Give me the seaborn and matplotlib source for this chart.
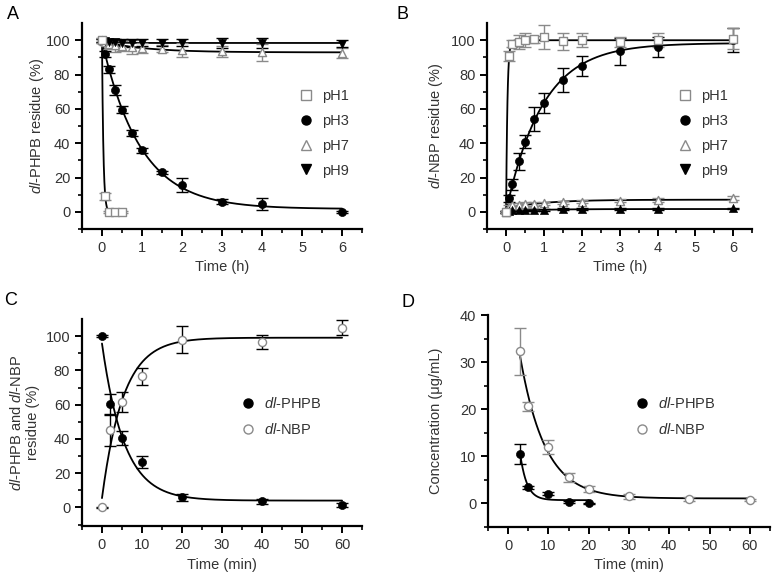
import numpy as np
import matplotlib
matplotlib.use("Agg")
import matplotlib.pyplot as plt
import seaborn as sns
from matplotlib.lines import Line2D

sns.set_style("ticks")
plt.rcParams["font.family"] = ["Liberation Sans", "DejaVu Sans"]
plt.rcParams["mathtext.fontset"] = "custom"
plt.rcParams["mathtext.rm"] = "Liberation Sans"
plt.rcParams["mathtext.it"] = "Liberation Sans:italic"

GRAY = "#8a8a8a"
TXT = "#333333"

# ---- data: panel A (dl-PHPB residue, %)
a_t1 = [0, 0.083, 0.167, 0.333, 0.5]
a_ph1 = [100, 9, 0, 0, 0]
a_ph1_err = [1.5, 2, 0.5, 0.5, 0.5]
a_t = [0, 0.083, 0.167, 0.333, 0.5, 0.75, 1, 1.5, 2, 3, 4, 6]
a_ph3 = [100, 92, 83, 71, 59.5, 46, 36, 23, 15.5, 6, 4.5, 0]
a_ph3_err = [1, 1.5, 2, 3, 2, 1.5, 1.5, 1, 4, 1.5, 3.5, 0.5]
a_ph7 = [100, 99, 98, 97, 96.5, 96, 95.5, 95, 94.5, 93.5, 93, 92.5]
a_ph7_err = [1.5, 2, 3, 4, 3, 4, 3, 2, 4, 3, 5, 3]
a_ph9 = [100, 99.5, 99, 99, 98.5, 98.5, 98.5, 98.5, 98.5, 98.5, 98.5, 98]
a_ph9_err = [1, 1.5, 1.5, 2, 2, 2.5, 2, 2, 2, 3, 3, 2]

# ---- panel B (dl-NBP residue, %)
b_t = [0, 0.083, 0.167, 0.333, 0.5, 0.75, 1, 1.5, 2, 3, 4, 6]
b_ph1 = [0, 91, 98, 99, 100, 100.5, 102, 99.5, 100, 99, 100, 101]
b_ph1_err = [0.5, 3, 2, 4, 4, 2, 7, 5, 4, 3, 4, 6]
b_ph3 = [0, 8, 16, 29.5, 41, 54, 63.5, 77, 85, 93.5, 96, 100]
b_ph3_err = [0.5, 2, 3, 5, 4, 7, 6, 7, 6, 8, 6, 7]
b_ph7 = [0, 3, 4, 4, 4.5, 4.5, 5, 5.5, 6, 6.5, 7, 8]
b_ph7_err = [0.5, 1, 1, 1, 1, 1, 1, 1, 1, 1, 1, 1]
b_ph9 = [0, 0.5, 1, 1, 1, 1, 1, 1.5, 1.5, 1.5, 1.5, 2]
b_ph9_err = [0.5, 0.5, 0.5, 0.5, 0.5, 0.5, 0.5, 0.5, 0.5, 0.5, 0.5, 0.5]

# ---- panel C (residue, %, vs min)
c_t = [0, 2, 5, 10, 20, 40, 60]
c_phpb = [100, 60.5, 40.5, 26.5, 6, 3.5, 1.5]
c_phpb_err = [0.5, 6, 4, 3.5, 2, 1.5, 1]
c_nbp = [0, 45, 61.5, 76.5, 98, 96.5, 105]
c_nbp_err = [0.5, 9, 6, 5, 8, 4, 4.5]

# ---- panel D (concentration, ug/mL)
d_t_phpb = [3, 5, 10, 15, 20]
d_phpb = [10.5, 3.4, 2, 0.3, 0]
d_phpb_err = [2.2, 0.3, 0.3, 0.2, 0.1]
d_t_nbp = [3, 5, 10, 15, 20, 30, 45, 60]
d_nbp = [32.3, 20.6, 12, 5.5, 3, 1.5, 0.9, 0.7]
d_nbp_err = [5, 1, 1.5, 1, 0.7, 0.5, 0.5, 0.2]


def exp_fit(x, y):
    # y = a*exp(-k x) + c, grid over k, least squares for a, c
    x = np.asarray(x, float)
    y = np.asarray(y, float)
    best = None
    for k in np.logspace(-3, 2.2, 3000):
        A = np.column_stack([np.exp(-k * x), np.ones_like(x)])
        coef = np.linalg.lstsq(A, y, rcond=None)[0]
        sse = np.sum((A @ coef - y) ** 2)
        if best is None or sse < best[0]:
            best = (sse, k, coef)
    _, k, (a, c) = best
    xs = np.linspace(x.min(), x.max(), 500)
    return xs, a * np.exp(-k * xs) + c


def series(ax, x, y, err, marker, filled, ecol=None, size=34):
    ecol = ecol or ("black" if filled else GRAY)
    xs, ys = exp_fit(x, y)
    sns.lineplot(x=xs, y=ys, ax=ax, color="black", lw=1.3, sort=False,
                 errorbar=None, zorder=2)
    ax.errorbar(x, y, yerr=err, fmt="none", ecolor=ecol, elinewidth=1,
                capsize=4, capthick=1, zorder=3)
    if filled:
        sns.scatterplot(x=x, y=y, ax=ax, marker=marker, color="black",
                        edgecolor="black", s=size, zorder=4)
    else:
        sns.scatterplot(x=x, y=y, ax=ax, marker=marker, color="white",
                        edgecolor=GRAY, linewidth=1, s=size, zorder=4)


def style(ax, xlim, ylim, xticks, yticks, xlabel, ylabel, ypad=4):
    sns.despine(ax=ax)
    ax.set_xlim(*xlim)
    ax.set_ylim(*ylim)
    ax.set_xticks(xticks)
    ax.set_yticks(yticks)
    ax.set_xticks([(a + b) / 2 for a, b in zip(xticks[:-1], xticks[1:])]
                  + [xticks[0] - (xticks[1] - xticks[0]) / 2,
                     xticks[-1] + (xticks[1] - xticks[0]) / 2], minor=True)
    ax.set_yticks([(a + b) / 2 for a, b in zip(yticks[:-1], yticks[1:])]
                  + [yticks[0] - (yticks[1] - yticks[0]) / 2], minor=True)
    for s in ("left", "bottom"):
        ax.spines[s].set_linewidth(1.6)
        ax.spines[s].set_color("black")
    ax.tick_params(which="major", direction="out", length=5, width=1.4,
                   labelsize=10.5, labelcolor=TXT, color="black")
    ax.tick_params(which="minor", direction="out", length=3, width=1.2,
                   color="black")
    ax.set_xlabel(xlabel, fontsize=10.5, color=TXT)
    ax.set_ylabel(ylabel, fontsize=10.5, color=TXT, labelpad=ypad)


def h(marker, filled):
    if filled:
        return Line2D([], [], ls="none", marker=marker, color="black",
                      markersize=6.5)
    return Line2D([], [], ls="none", marker=marker, markerfacecolor="white",
                  markeredgecolor=GRAY, markersize=6.5)


LEG = dict(loc="upper left", frameon=False, fontsize=10.5, labelspacing=0.75,
           handletextpad=0.5, handlelength=1.2, labelcolor=TXT)

fig = plt.figure(figsize=(7.77, 5.77), dpi=100)
axA = fig.add_axes([0.1055, 0.603, 0.3605, 0.357])
axB = fig.add_axes([0.627, 0.603, 0.341, 0.357])
axC = fig.add_axes([0.1055, 0.088, 0.3605, 0.359])
axD = fig.add_axes([0.628, 0.087, 0.363, 0.367])

# A
series(axA, a_t, a_ph7, a_ph7_err, "^", False)
series(axA, a_t, a_ph9, a_ph9_err, "v", True)
series(axA, a_t, a_ph3, a_ph3_err, "o", True)
series(axA, a_t1, a_ph1, a_ph1_err, "s", False)
style(axA, (-0.5, 6.5), (-10, 110), [0, 1, 2, 3, 4, 5, 6],
      [0, 20, 40, 60, 80, 100], "Time (h)", r"$\mathit{dl}$-PHPB residue (%)",
      ypad=0)
axA.legend([h("s", False), h("o", True), h("^", False), h("v", True)],
           ["pH1", "pH3", "pH7", "pH9"], bbox_to_anchor=(0.72, 0.745), **LEG)

# B
series(axB, b_t, b_ph7, b_ph7_err, "^", False)
series(axB, b_t, b_ph9, b_ph9_err, "^", True)
series(axB, b_t, b_ph3, b_ph3_err, "o", True)
series(axB, b_t, b_ph1, b_ph1_err, "s", False)
style(axB, (-0.5, 6.5), (-10, 110), [0, 1, 2, 3, 4, 5, 6],
      [0, 20, 40, 60, 80, 100], "Time (h)", r"$\mathit{dl}$-NBP residue (%)")
axB.legend([h("s", False), h("o", True), h("^", False), h("v", True)],
           ["pH1", "pH3", "pH7", "pH9"], bbox_to_anchor=(0.665, 0.745), **LEG)

# C
series(axC, c_t, c_phpb, c_phpb_err, "o", True)
series(axC, c_t, c_nbp, c_nbp_err, "o", False, ecol="black")
style(axC, (-5, 65), (-11, 110), [0, 10, 20, 30, 40, 50, 60],
      [0, 20, 40, 60, 80, 100], "Time (min)",
      "$\\mathit{dl}$-PHPB and $\\mathit{dl}$-NBP\nresidue (%)")
axC.legend([h("o", True), h("o", False)],
           [r"$\mathit{dl}$-PHPB", r"$\mathit{dl}$-NBP"],
           bbox_to_anchor=(0.515, 0.69), **LEG)

# D
series(axD, d_t_phpb, d_phpb, d_phpb_err, "o", True)
series(axD, d_t_nbp, d_nbp, d_nbp_err, "o", False)
style(axD, (-5, 65), (-5, 40), [0, 10, 20, 30, 40, 50, 60],
      [0, 10, 20, 30, 40], "Time (min)", "Concentration (μg/mL)", ypad=12)
axD.legend([h("o", True), h("o", False)],
           [r"$\mathit{dl}$-PHPB", r"$\mathit{dl}$-NBP"],
           bbox_to_anchor=(0.467, 0.68), **LEG)

for lab, (x, y) in zip("ABCD", [(0.009, 0.975), (0.51, 0.975),
                                 (0.005, 0.48), (0.517, 0.475)]):
    fig.text(x, y, lab, fontsize=13, color="black", va="center")

fig.savefig("out.png", dpi=100)
